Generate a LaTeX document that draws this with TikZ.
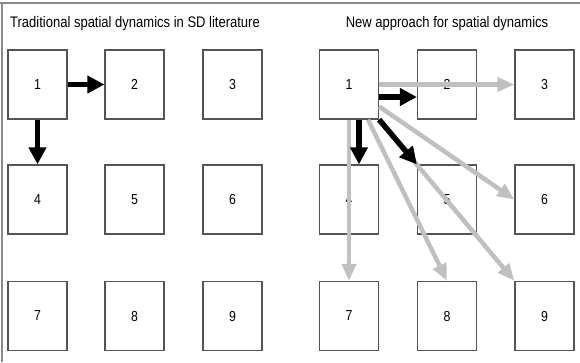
\documentclass[tikz,border=0pt]{standalone}
\usepackage{fontspec}
\setmainfont{Liberation Sans}[FakeStretch=0.85]
\usetikzlibrary{arrows.meta}
\definecolor{framegray}{HTML}{8A8A8A}
\definecolor{boxgray}{HTML}{555555}
\definecolor{arrgray}{HTML}{C0C0C0}
\tikzset{
  cell/.style={draw=boxgray, line width=1.3bp, minimum width=59bp, minimum height=69bp, inner sep=0pt, font=\fontsize{14.5bp}{16bp}\selectfont, fill=white},
  title/.style={font=\fontsize{15.3bp}{18bp}\selectfont, inner sep=0pt},
  blackarrow/.style={draw=black, line width=5.5bp, -{Triangle[length=17bp,width=17bp]}},
  grayarrow/.style={draw=arrgray, line width=4.5bp, -{Triangle[length=17bp,width=14bp]}},
}
\begin{document}
\begin{tikzpicture}[x=1bp,y=-1bp]
\useasboundingbox (0,0) rectangle (580,362);
\draw[framegray, line width=1.6bp] (0,3) -- (580,3);
\draw[framegray, line width=1.6bp] (2,3) -- (2,362);

\node[title, anchor=base west] (tl) at (10,27) {Traditional spatial dynamics in SD literature};
\node[title, anchor=base] (tr) at (447,27) {New approach for spatial dynamics};

% left grid
\foreach \n/\x/\y in {1/37.5/84.5, 2/134.5/84.5, 3/232.5/84.5, 4/37.5/199.5, 5/134.5/199.5, 6/232.5/199.5, 7/37.5/316, 8/134.5/316, 9/232.5/316}
  \node[cell] (L\n) at (\x,\y) {\n};
% right grid
\foreach \n/\x/\y in {1/349/84.5, 2/447/84.5, 3/544.5/84.5, 4/349/199.5, 5/447/199.5, 6/544.5/199.5, 7/349/316, 8/447/316, 9/544.5/316}
  \node[cell] (R\n) at (\x,\y) {\n};

% left arrows
\draw[blackarrow] (L1.east) -- (L2.west);
\draw[blackarrow] (L1.south) -- (L4.north);

% right arrows
\draw[grayarrow] (R1.east) -- (R3.west);
\draw[grayarrow] (R1.south) -- (R7.north);
\draw[grayarrow] ([yshift=-22bp]R1.east) -- (R6.west);
\draw[grayarrow] ([xshift=19bp]R1.south) -- (R8.north);
\draw[grayarrow] (R1.south east) -- (R9.north west);
\draw[blackarrow] ([yshift=-12.5bp]R1.east) -- ([yshift=-12.5bp]R2.west);
\draw[blackarrow] ([xshift=10bp]R1.south) -- ([xshift=10bp]R4.north);
\draw[blackarrow] (R1.south east) -- (R5.north west);
\end{tikzpicture}
\end{document}
